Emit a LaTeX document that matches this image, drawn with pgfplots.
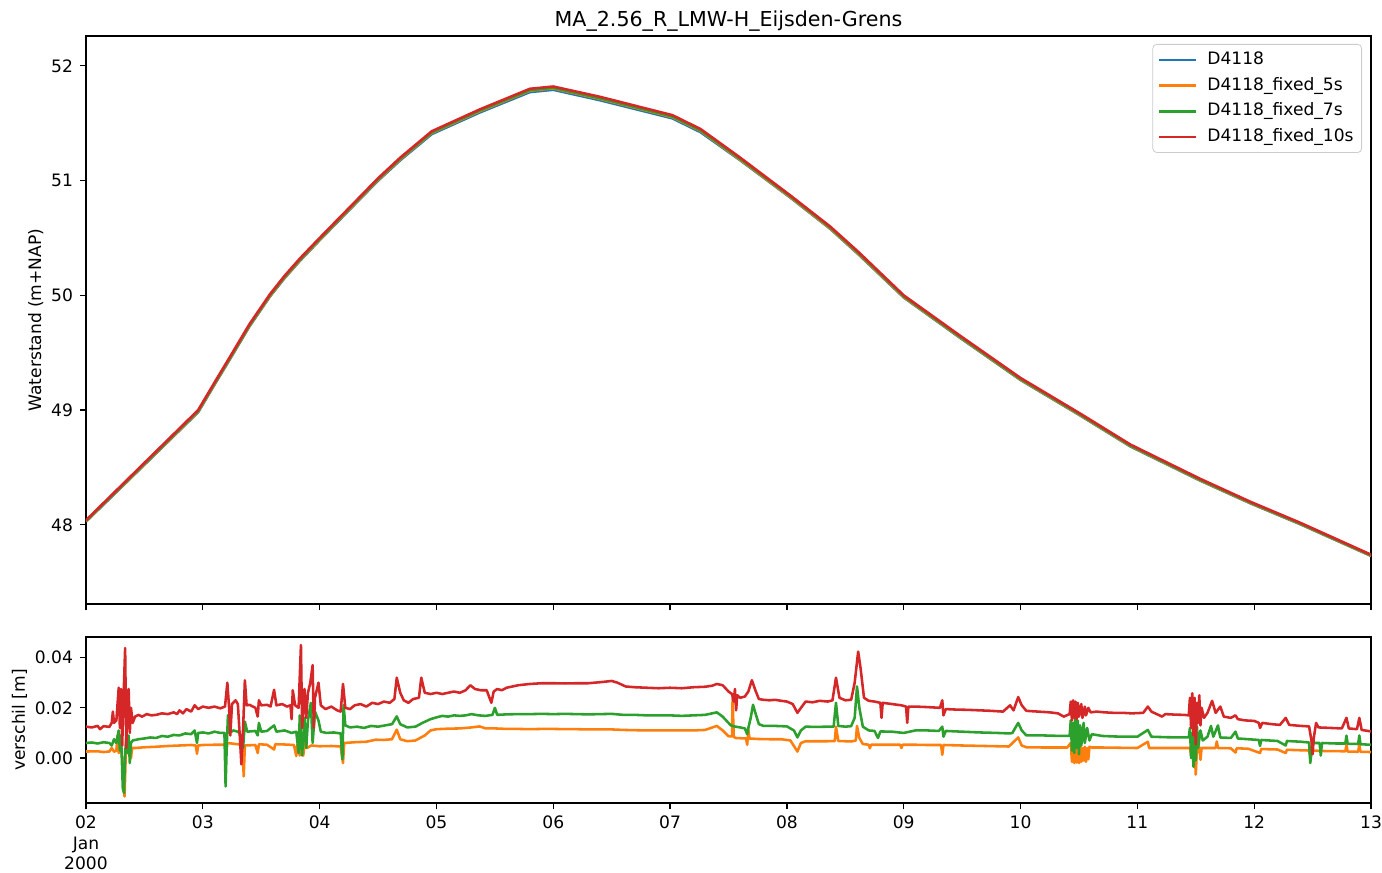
\documentclass[border=0pt]{standalone}
\usepackage{fontspec}
\setmainfont{DejaVu Sans}
\usepackage{pgfplots}
\usepackage{pgfplotstable}
\pgfplotsset{compat=1.18}
\definecolor{tabblue}{HTML}{1F77B4}
\definecolor{taborange}{HTML}{FF7F0E}
\definecolor{tabgreen}{HTML}{2CA02C}
\definecolor{tabred}{HTML}{D62728}
\newcommand{\fs}{\fontsize{8.55}{10.26}\selectfont}
\pgfplotstableread{
x blue orange green red
0 48.028 48.031 48.034 48.040
0.3 48.325 48.329 48.333 48.340
0.6 48.623 48.627 48.632 48.640
0.96 48.981 48.986 48.991 49.000
1.1 49.221 49.226 49.231 49.240
1.23 49.440 49.445 49.450 49.460
1.4 49.730 49.735 49.740 49.750
1.575 49.990 49.995 50.001 50.010
1.7 50.150 50.155 50.161 50.170
1.83 50.299 50.304 50.310 50.320
2.0 50.480 50.485 50.491 50.500
2.26 50.750 50.756 50.762 50.770
2.5 50.999 51.006 51.012 51.020
2.69 51.177 51.185 51.191 51.200
2.96 51.405 51.415 51.420 51.430
3.37 51.593 51.604 51.610 51.620
3.8 51.771 51.783 51.788 51.800
4.0 51.791 51.803 51.808 51.820
4.4 51.700 51.712 51.717 51.730
5.02 51.542 51.553 51.558 51.570
5.26 51.422 51.433 51.438 51.450
5.6 51.177 51.182 51.189 51.200
6.03 50.851 50.855 50.862 50.870
6.37 50.580 50.584 50.591 50.600
6.61 50.359 50.364 50.371 50.380
7.0 49.981 49.985 49.991 50.000
7.48 49.631 49.635 49.640 49.650
8.0 49.262 49.266 49.271 49.280
8.51 48.953 48.956 48.961 48.970
8.94 48.683 48.687 48.691 48.700
9.54 48.384 48.387 48.391 48.400
9.97 48.186 48.189 48.193 48.200
10.39 48.007 48.010 48.013 48.020
11 47.729 47.731 47.734 47.740
}\toptable
\begin{document}
\begin{tikzpicture}
\path[use as bounding box] (0,0) rectangle (691pt,-436.5pt);
\pgfplotsset{
  myaxis/.style={
    scale only axis, width=642.5pt,
    xmin=0, xmax=11, xtick={0,...,11},
    xtick pos=bottom, ytick pos=left,
    tick align=outside, major tick length=3pt,
    axis line style={black, line width=0.65pt},
    tick style={black, line width=0.65pt},
    /pgf/number format/assume math mode=true,
    tick label style={font=\fs},
    label style={font=\fs},
    scaled y ticks=false,
  },
  pl/.style={#1, line width=1.28pt, line join=round},
}
\begin{axis}[myaxis,
  at={(43pt,-302pt)}, anchor=south west, height=284pt,
  ymin=47.31, ymax=52.26, ytick={48,49,50,51,52},
  xticklabels={},
  ylabel={Waterstand (m+NAP)},
  ylabel style={at={(axis description cs:-0.035,0.5)}, anchor=base},
  title={MA\_2.56\_R\_LMW-H\_Eijsden-Grens},
  title style={font=\fontsize{10.3}{12}\selectfont, at={(axis description cs:0.5,1)}, anchor=base, yshift=-1.2pt},
  legend cell align=left,
  legend style={at={(0.993,0.986)}, anchor=north east, font=\fs,
    draw=black!20, rounded corners=2pt, fill=white, fill opacity=0.8, text opacity=1,
    inner xsep=2.5pt, inner ysep=2.2pt, row sep=1.5pt,
    nodes={inner sep=1.5pt, text height=6.4pt, text depth=1.9pt}},
  legend image code/.code={\draw[#1, line width=1.3pt] (0pt,0pt) -- (18.5pt,0pt); \path (22pt,0pt);},
]
\addplot[pl=tabblue] table[x=x,y=blue] {\toptable};
\addplot[pl=taborange] table[x=x,y=orange] {\toptable};
\addplot[pl=tabgreen] table[x=x,y=green] {\toptable};
\addplot[pl=tabred] table[x=x,y=red] {\toptable};
\legend{D4118,D4118\_fixed\_5s,D4118\_fixed\_7s,D4118\_fixed\_10s}
\end{axis}
\begin{axis}[myaxis,
  at={(43pt,-401.5pt)}, anchor=south west, height=83pt,
  ymin=-0.0179, ymax=0.0482, ytick={0,0.02,0.04},
  yticklabel style={/pgf/number format/.cd, fixed, fixed zerofill, precision=2},
  xticklabels={{02\\Jan\\2000},03,04,05,06,07,08,09,10,11,12,13},
  xticklabel style={align=center, font=\fs},
  ylabel={verschil [m]},
  ylabel style={at={(axis description cs:-0.0475,0.5)}, anchor=base},
]
\addplot[pl=taborange] coordinates {
(0,0.0026)(0.1,0.0027)(0.15,0.0024)(0.2,0.0026)(0.22,0.0040)(0.24,0.0025)(0.26,0.0030)(0.27,0.0090)(0.28,0.0020)(0.30,0.0050)(0.32,-0.0050)(0.33,-0.0153)(0.34,0.0010)(0.35,0.0050)(0.37,0.0020)(0.385,0.0000)(0.395,0.0040)(0.42,0.0040)(0.50,0.0043)(0.60,0.0045)(0.70,0.0048)(0.80,0.0050)(0.90,0.0052)(0.94,0.0050)(0.95,0.0017)(0.96,0.0050)(1.00,0.0052)(1.10,0.0053)(1.19,0.0053)(1.20,0.0020)(1.21,0.0060)(1.30,0.0055)(1.34,0.0050)(1.35,-0.0073)(1.36,0.0050)(1.45,0.0052)(1.47,0.0020)(1.48,0.0055)(1.55,0.0053)(1.61,0.0034)(1.62,0.0055)(1.70,0.0054)(1.78,0.0052)(1.80,0.0008)(1.81,0.0055)(1.83,0.0010)(1.84,0.0060)(1.86,0.0010)(1.88,0.0093)(1.89,0.0040)(1.93,0.0050)(2.00,0.0047)(2.10,0.0048)(2.18,0.0046)(2.20,-0.0020)(2.21,0.0060)(2.30,0.0063)(2.40,0.0065)(2.48,0.0073)(2.55,0.0072)(2.62,0.0075)(2.66,0.0113)(2.69,0.0075)(2.75,0.0067)(2.82,0.0070)(2.90,0.0090)(2.95,0.0110)(3.00,0.0115)(3.10,0.0117)(3.20,0.0118)(3.30,0.0122)(3.37,0.0126)(3.42,0.0118)(3.50,0.0118)(3.60,0.0116)(3.70,0.0116)(3.80,0.0115)(3.90,0.0116)(4.00,0.0116)(4.10,0.0115)(4.20,0.0115)(4.30,0.0114)(4.40,0.0114)(4.50,0.0114)(4.60,0.0112)(4.70,0.0111)(4.80,0.0110)(4.90,0.0110)(5.00,0.0110)(5.10,0.0110)(5.20,0.0110)(5.30,0.0112)(5.40,0.0128)(5.45,0.0110)(5.50,0.0087)(5.53,0.0086)(5.535,0.0239)(5.545,0.0085)(5.56,0.0080)(5.60,0.0079)(5.65,0.0078)(5.66,0.0053)(5.67,0.0113)(5.68,0.0078)(5.75,0.0076)(5.85,0.0075)(5.95,0.0075)(6.03,0.0070)(6.09,0.0026)(6.12,0.0060)(6.16,0.0067)(6.25,0.0067)(6.35,0.0067)(6.41,0.0068)(6.42,0.0125)(6.44,0.0068)(6.55,0.0066)(6.59,0.0070)(6.60,0.0128)(6.62,0.0080)(6.65,0.0056)(6.70,0.0053)(6.71,0.0039)(6.72,0.0053)(6.80,0.0053)(6.90,0.0053)(6.97,0.0053)(6.98,0.0040)(6.99,0.0053)(7.10,0.0053)(7.20,0.0052)(7.32,0.0052)(7.33,0.0013)(7.34,0.0052)(7.50,0.0050)(7.70,0.0048)(7.90,0.0046)(7.98,0.0082)(8.01,0.0050)(8.05,0.0043)(8.20,0.0042)(8.40,0.0042)(8.43,0.0060)(8.44,-0.0015)(8.45,0.0050)(8.46,-0.0020)(8.47,0.0045)(8.48,-0.0018)(8.49,0.0040)(8.50,-0.0020)(8.51,0.0045)(8.52,-0.0015)(8.53,0.0040)(8.54,-0.0010)(8.55,0.0045)(8.56,-0.0015)(8.57,0.0040)(8.58,-0.0005)(8.59,0.0045)(8.61,0.0042)(8.70,0.0042)(8.85,0.0041)(9.00,0.0040)(9.09,0.0065)(9.10,0.0040)(9.25,0.0040)(9.40,0.0040)(9.45,0.0040)(9.46,0.0010)(9.47,0.0045)(9.48,-0.0010)(9.49,0.0040)(9.50,-0.0066)(9.51,0.0040)(9.52,0.0024)(9.53,0.0045)(9.54,-0.0007)(9.55,0.0040)(9.60,0.0040)(9.67,0.0040)(9.68,0.0066)(9.69,0.0040)(9.80,0.0039)(9.84,0.0022)(9.85,0.0039)(9.95,0.0037)(10.05,0.0020)(10.06,0.0036)(10.20,0.0034)(10.27,0.0020)(10.28,0.0033)(10.40,0.0031)(10.47,0.0030)(10.48,0.0007)(10.49,0.0030)(10.60,0.0028)(10.78,0.0027)(10.79,0.0053)(10.80,0.0026)(10.89,0.0025)(10.90,0.0053)(10.91,0.0025)(11.00,0.0024)
};
\addplot[pl=tabgreen] coordinates {
(0,0.0060)(0.05,0.0062)(0.1,0.0058)(0.15,0.0063)(0.2,0.0060)(0.22,0.0050)(0.24,0.0075)(0.26,0.0060)(0.28,0.0110)(0.29,0.0030)(0.30,0.0090)(0.315,-0.0120)(0.325,-0.0139)(0.335,0.0020)(0.345,0.0080)(0.355,0.0020)(0.365,0.0090)(0.375,-0.0020)(0.385,0.0060)(0.40,0.0070)(0.45,0.0075)(0.50,0.0078)(0.55,0.0082)(0.60,0.0080)(0.65,0.0088)(0.70,0.0085)(0.75,0.0092)(0.80,0.0090)(0.85,0.0098)(0.90,0.0095)(0.93,0.0110)(0.95,0.0060)(0.96,0.0100)(1.00,0.0102)(1.05,0.0098)(1.10,0.0105)(1.15,0.0100)(1.185,0.0100)(1.195,-0.0113)(1.205,0.0050)(1.215,0.0170)(1.23,0.0100)(1.26,0.0110)(1.30,0.0105)(1.33,0.0090)(1.345,0.0040)(1.36,0.0145)(1.38,0.0105)(1.45,0.0108)(1.47,0.0090)(1.48,0.0140)(1.50,0.0105)(1.55,0.0108)(1.61,0.0130)(1.63,0.0105)(1.70,0.0110)(1.76,0.0100)(1.80,0.0105)(1.82,0.0020)(1.83,0.0170)(1.85,0.0010)(1.87,0.0160)(1.885,0.0040)(1.90,0.0150)(1.925,0.0220)(1.94,0.0060)(1.96,0.0185)(1.99,0.0150)(2.01,0.0105)(2.06,0.0100)(2.12,0.0102)(2.18,0.0098)(2.195,-0.0005)(2.205,0.0210)(2.22,0.0130)(2.26,0.0122)(2.32,0.0125)(2.38,0.0120)(2.44,0.0128)(2.50,0.0125)(2.56,0.0130)(2.62,0.0135)(2.66,0.0166)(2.69,0.0135)(2.75,0.0122)(2.82,0.0125)(2.88,0.0140)(2.95,0.0155)(3.00,0.0162)(3.05,0.0168)(3.10,0.0165)(3.15,0.0170)(3.20,0.0168)(3.25,0.0170)(3.30,0.0175)(3.36,0.0170)(3.42,0.0168)(3.48,0.0172)(3.50,0.0200)(3.52,0.0172)(3.60,0.0174)(3.70,0.0175)(3.80,0.0175)(3.90,0.0176)(4.00,0.0175)(4.10,0.0176)(4.20,0.0175)(4.30,0.0174)(4.40,0.0175)(4.50,0.0176)(4.60,0.0172)(4.70,0.0172)(4.80,0.0170)(4.90,0.0170)(5.00,0.0170)(5.10,0.0168)(5.20,0.0170)(5.30,0.0172)(5.40,0.0182)(5.45,0.0165)(5.52,0.0130)(5.56,0.0125)(5.60,0.0122)(5.64,0.0118)(5.66,0.0095)(5.67,0.0120)(5.69,0.0160)(5.71,0.0212)(5.73,0.0180)(5.76,0.0135)(5.80,0.0128)(5.90,0.0128)(6.00,0.0126)(6.06,0.0110)(6.09,0.0082)(6.12,0.0110)(6.16,0.0125)(6.25,0.0124)(6.35,0.0125)(6.40,0.0125)(6.42,0.0220)(6.44,0.0128)(6.50,0.0125)(6.55,0.0127)(6.58,0.0160)(6.60,0.0285)(6.62,0.0200)(6.65,0.0125)(6.70,0.0110)(6.75,0.0108)(6.78,0.0080)(6.80,0.0106)(6.90,0.0105)(7.00,0.0100)(7.10,0.0110)(7.20,0.0110)(7.30,0.0108)(7.33,0.0125)(7.34,0.0085)(7.36,0.0108)(7.50,0.0105)(7.65,0.0102)(7.80,0.0100)(7.91,0.0098)(7.93,0.0100)(7.98,0.0140)(8.01,0.0110)(8.05,0.0090)(8.20,0.0090)(8.35,0.0088)(8.42,0.0088)(8.43,0.0150)(8.44,0.0030)(8.45,0.0140)(8.46,0.0020)(8.47,0.0175)(8.48,0.0040)(8.49,0.0150)(8.50,0.0015)(8.51,0.0130)(8.52,0.0050)(8.54,0.0140)(8.55,0.0060)(8.57,0.0120)(8.59,0.0070)(8.61,0.0095)(8.70,0.0088)(8.80,0.0086)(8.90,0.0085)(9.00,0.0085)(9.09,0.0112)(9.12,0.0085)(9.25,0.0083)(9.40,0.0082)(9.44,0.0082)(9.45,0.0120)(9.46,0.0000)(9.47,0.0100)(9.48,-0.0035)(9.49,0.0110)(9.50,-0.0010)(9.51,0.0125)(9.52,0.0040)(9.54,0.0110)(9.56,0.0070)(9.60,0.0085)(9.63,0.0128)(9.65,0.0085)(9.69,0.0130)(9.71,0.0082)(9.80,0.0080)(9.84,0.0105)(9.86,0.0078)(9.95,0.0075)(10.04,0.0072)(10.05,0.0048)(10.06,0.0072)(10.20,0.0068)(10.27,0.0050)(10.28,0.0068)(10.40,0.0065)(10.47,0.0062)(10.48,-0.0020)(10.50,0.0060)(10.56,0.0060)(10.57,0.0010)(10.58,0.0060)(10.70,0.0058)(10.78,0.0058)(10.79,0.0089)(10.80,0.0057)(10.89,0.0056)(10.90,0.0090)(10.91,0.0055)(11.00,0.0053)
};
\addplot[pl=tabred] coordinates {
(0,0.0125)(0.05,0.0122)(0.1,0.0128)(0.12,0.0115)(0.15,0.0127)(0.2,0.0124)(0.22,0.0140)(0.23,0.0185)(0.24,0.0140)(0.26,0.0150)(0.28,0.0280)(0.29,0.0120)(0.30,0.0275)(0.31,0.0050)(0.32,0.0220)(0.335,0.0438)(0.345,0.0040)(0.355,0.0250)(0.365,0.0275)(0.375,0.0100)(0.385,0.0200)(0.40,0.0140)(0.42,0.0165)(0.45,0.0172)(0.48,0.0165)(0.52,0.0175)(0.56,0.0170)(0.60,0.0172)(0.65,0.0178)(0.70,0.0175)(0.75,0.0182)(0.78,0.0175)(0.80,0.0190)(0.83,0.0178)(0.86,0.0195)(0.90,0.0185)(0.93,0.0210)(0.96,0.0195)(1.00,0.0205)(1.05,0.0200)(1.10,0.0205)(1.15,0.0198)(1.19,0.0205)(1.21,0.0300)(1.225,0.0200)(1.235,0.0090)(1.25,0.0215)(1.28,0.0230)(1.30,0.0215)(1.32,0.0060)(1.33,-0.0025)(1.345,0.0120)(1.36,0.0310)(1.375,0.0210)(1.40,0.0212)(1.45,0.0200)(1.47,0.0165)(1.48,0.0230)(1.50,0.0210)(1.55,0.0212)(1.58,0.0205)(1.61,0.0272)(1.63,0.0210)(1.68,0.0215)(1.72,0.0205)(1.75,0.0210)(1.76,0.0155)(1.77,0.0270)(1.79,0.0210)(1.82,0.0200)(1.84,0.0450)(1.85,0.0120)(1.87,0.0275)(1.885,0.0160)(1.90,0.0260)(1.92,0.0300)(1.94,0.0370)(1.95,0.0120)(1.96,0.0240)(1.99,0.0300)(2.01,0.0210)(2.05,0.0195)(2.10,0.0205)(2.15,0.0190)(2.18,0.0185)(2.20,0.0295)(2.22,0.0200)(2.26,0.0195)(2.30,0.0210)(2.35,0.0215)(2.40,0.0205)(2.45,0.0220)(2.50,0.0215)(2.55,0.0225)(2.60,0.0220)(2.64,0.0235)(2.66,0.0320)(2.69,0.0260)(2.72,0.0230)(2.76,0.0220)(2.80,0.0235)(2.85,0.0240)(2.87,0.0320)(2.90,0.0260)(2.95,0.0255)(3.00,0.0260)(3.05,0.0255)(3.10,0.0260)(3.15,0.0265)(3.20,0.0260)(3.25,0.0270)(3.29,0.0290)(3.33,0.0275)(3.38,0.0270)(3.43,0.0270)(3.47,0.0220)(3.49,0.0265)(3.52,0.0275)(3.56,0.0270)(3.60,0.0280)(3.70,0.0290)(3.80,0.0295)(3.90,0.0298)(4.00,0.0298)(4.10,0.0297)(4.20,0.0298)(4.30,0.0298)(4.40,0.0302)(4.50,0.0307)(4.55,0.0300)(4.62,0.0285)(4.70,0.0282)(4.80,0.0280)(4.90,0.0278)(5.00,0.0280)(5.10,0.0278)(5.20,0.0282)(5.30,0.0284)(5.36,0.0288)(5.40,0.0295)(5.45,0.0290)(5.50,0.0265)(5.53,0.0255)(5.545,0.0225)(5.555,0.0275)(5.565,0.0190)(5.575,0.0250)(5.60,0.0240)(5.64,0.0245)(5.67,0.0265)(5.70,0.0310)(5.73,0.0270)(5.76,0.0235)(5.80,0.0232)(5.85,0.0230)(5.90,0.0232)(5.95,0.0228)(6.00,0.0225)(6.05,0.0215)(6.09,0.0180)(6.12,0.0200)(6.16,0.0225)(6.22,0.0222)(6.28,0.0228)(6.35,0.0225)(6.39,0.0230)(6.42,0.0320)(6.45,0.0240)(6.50,0.0230)(6.55,0.0232)(6.58,0.0300)(6.61,0.0424)(6.63,0.0360)(6.66,0.0240)(6.70,0.0228)(6.75,0.0225)(6.80,0.0220)(6.81,0.0160)(6.82,0.0220)(6.90,0.0215)(6.98,0.0210)(7.02,0.0205)(7.03,0.0140)(7.04,0.0205)(7.10,0.0205)(7.20,0.0203)(7.31,0.0200)(7.33,0.0230)(7.34,0.0170)(7.36,0.0195)(7.45,0.0193)(7.55,0.0192)(7.65,0.0190)(7.75,0.0188)(7.85,0.0185)(7.91,0.0210)(7.94,0.0190)(7.98,0.0243)(8.01,0.0210)(8.05,0.0188)(8.15,0.0185)(8.25,0.0182)(8.32,0.0178)(8.37,0.0165)(8.42,0.0175)(8.43,0.0225)(8.44,0.0150)(8.45,0.0230)(8.46,0.0160)(8.47,0.0225)(8.48,0.0155)(8.49,0.0220)(8.50,0.0165)(8.52,0.0215)(8.53,0.0160)(8.55,0.0205)(8.56,0.0170)(8.58,0.0200)(8.60,0.0182)(8.65,0.0185)(8.72,0.0182)(8.80,0.0180)(8.88,0.0180)(8.95,0.0178)(9.05,0.0180)(9.09,0.0205)(9.12,0.0185)(9.18,0.0172)(9.21,0.0165)(9.24,0.0175)(9.32,0.0173)(9.40,0.0172)(9.44,0.0170)(9.45,0.0240)(9.46,0.0120)(9.47,0.0258)(9.48,0.0090)(9.49,0.0240)(9.50,0.0055)(9.51,0.0220)(9.52,0.0140)(9.53,0.0250)(9.54,0.0130)(9.55,0.0200)(9.57,0.0160)(9.60,0.0180)(9.64,0.0228)(9.67,0.0180)(9.71,0.0205)(9.74,0.0165)(9.80,0.0160)(9.84,0.0170)(9.86,0.0155)(9.92,0.0150)(10.00,0.0148)(10.04,0.0140)(10.05,0.0120)(10.07,0.0140)(10.15,0.0135)(10.22,0.0132)(10.27,0.0160)(10.30,0.0132)(10.40,0.0128)(10.47,0.0126)(10.49,0.0070)(10.50,0.0015)(10.51,0.0080)(10.53,0.0140)(10.55,0.0122)(10.65,0.0120)(10.75,0.0118)(10.79,0.0160)(10.81,0.0118)(10.88,0.0115)(10.90,0.0160)(10.92,0.0112)(11.00,0.0106)
};
\end{axis}
\end{tikzpicture}
\end{document}
